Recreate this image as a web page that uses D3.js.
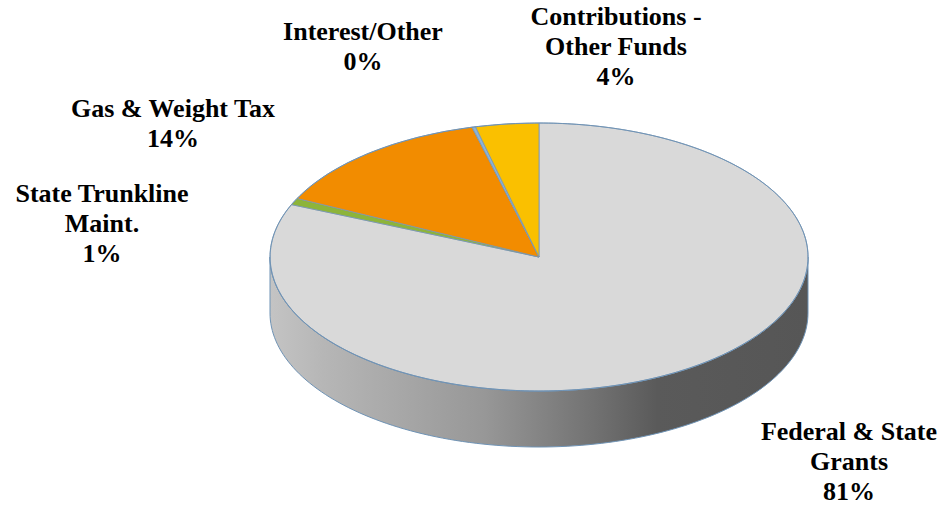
<!DOCTYPE html>
<html>
<head>
<meta charset="utf-8">
<script src="https://cdn.jsdelivr.net/npm/d3@7"></script>
<style>
  html, body { margin: 0; padding: 0; background: #ffffff; }
  svg { display: block; }
</style>
</head>
<body>
<svg id="chart" width="944" height="508"></svg>
<script>
// Revenue sources (share of total, %)
const categories = [
  "Federal & State Grants",
  "State Trunkline Maint.",
  "Gas & Weight Tax",
  "Interest/Other",
  "Contributions - Other Funds"
];
const values = [81.4, 0.8, 13.8, 0.2, 3.8];

// Label text split into lines
const labelLines = [
  ["Federal & State", "Grants"],
  ["State Trunkline", "Maint."],
  ["Gas & Weight Tax"],
  ["Interest/Other"],
  ["Contributions -", "Other Funds"]
];

const topColors = ["#d9d9d9", "#8db43a", "#f28c00", "#8cb4d8", "#fac000"];

// Layout
const W = 944, H = 508;
const cx = 539, cy = 257, rx = 269, ry = 134, depth = 56;
const lineGap = 30;
const labelFont = "'Liberation Serif', Tinos, 'Times New Roman', Times, 'Nimbus Roman', 'Nimbus Roman No9 L', FreeSerif, 'DejaVu Serif', serif";
const labelAnchor = [[849, 440], [102, 202], [173, 117], [363, 40], [616, 25]];

const svg = d3.select("#chart");
const total = d3.sum(values);
const pct = d3.format(".0%");

const pie = d3.pie().sort(null).value(d => d.value);
const arcs = pie(categories.map((c, i) => ({ name: c, value: values[i], i })));

// side shading
const defs = svg.append("defs");
const grad = defs.append("linearGradient")
  .attr("id", "sideGrad")
  .attr("gradientUnits", "userSpaceOnUse")
  .attr("x1", cx - rx).attr("y1", 0)
  .attr("x2", cx + rx).attr("y2", 0);
[[0, "#c4c4c4"], [0.1, "#b6b6b6"], [0.4, "#979797"], [0.6, "#727272"], [0.72, "#5a5a5a"], [1, "#565656"]]
  .forEach(([o, c]) => grad.append("stop").attr("offset", o).attr("stop-color", c));

const ex = a => cx + rx * Math.sin(a);
const ey = a => cy - ry * Math.cos(a);

// front walls: only the part of each slice facing the viewer (between 90° and 270°)
const wallLine = d3.line();
const walls = svg.append("g");
arcs.forEach(d => {
  const a0 = Math.max(d.startAngle, Math.PI / 2);
  const a1 = Math.min(d.endAngle, 3 * Math.PI / 2);
  if (a1 <= a0) return;
  const n = 120;
  const ts = d3.range(n + 1).map(k => a0 + (a1 - a0) * k / n);
  const pts = ts.map(a => [ex(a), ey(a)])
    .concat(ts.slice().reverse().map(a => [ex(a), ey(a) + depth]));
  walls.append("path")
    .attr("d", wallLine(pts) + "Z")
    .attr("fill", "url(#sideGrad)")
    .attr("stroke", "#6f93b5")
    .attr("stroke-width", 1);
});

// top faces: unit-circle arcs squashed into the ellipse
const arc = d3.arc().innerRadius(0).outerRadius(1);
svg.append("g")
  .attr("transform", `translate(${cx},${cy}) scale(${rx},${ry})`)
  .selectAll("path")
  .data(arcs)
  .join("path")
  .attr("d", arc)
  .attr("fill", d => topColors[d.data.i])
  .attr("stroke", "#7896b4")
  .attr("stroke-width", 0.8)
  .attr("vector-effect", "non-scaling-stroke");

// outer rim of the top face
const rimPts = d3.range(0, 361).map(k => {
  const a = k * Math.PI / 180;
  return [ex(a), ey(a)];
});
svg.append("path")
  .attr("d", d3.line()(rimPts) + "Z")
  .attr("fill", "none")
  .attr("stroke", "#6f93b5")
  .attr("stroke-width", 1);

// labels
const labels = svg.append("g");
arcs.forEach(d => {
  const i = d.data.i;
  const [lx, ly] = labelAnchor[i];
  const lines = labelLines[i].concat([pct(d.data.value / total)]);
  const t = labels.append("text")
    .style("font-family", labelFont)
    .attr("font-weight", "bold")
    .attr("font-size", 26)
    .attr("fill", "#000")
    .attr("text-anchor", "middle");
  lines.forEach((s, k) => {
    t.append("tspan").attr("x", lx).attr("y", ly + k * lineGap).text(s);
  });
});
</script>
</body>
</html>
